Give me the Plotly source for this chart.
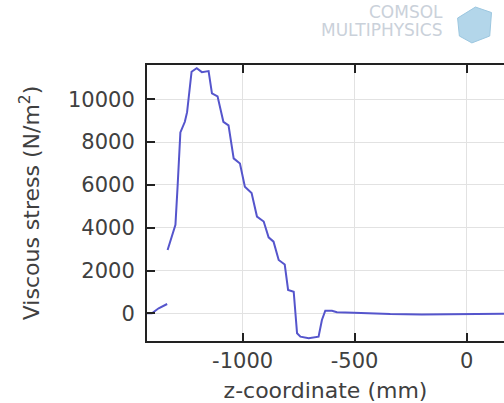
import plotly.graph_objects as go

# Segment 1 (before discontinuity) and segment 2, separated by None
z_mm = [-1427, -1405, -1375, -1337, None,
        -1335, -1300, -1290, -1278, -1258, -1248, -1228, -1205, -1182, -1152,
        -1137, -1112, -1086, -1063, -1040, -1012, -990, -960, -936, -906,
        -884, -862, -839, -812, -797, -772, -757, -742, -705, -661, -646,
        -631, -601, -579, -504, -341, -200, -50, 168]
stress = [0, 0, 234, 435, None,
          2960, 4130, 6000, 8450, 8950, 9400, 11290, 11450, 11270, 11320,
          10280, 10140, 8950, 8780, 7240, 7000, 5920, 5620, 4520, 4290,
          3550, 3350, 2490, 2280, 1090, 1010, -930, -1093, -1170, -1093, -310,
          121, 121, 47, 28, -33, -50, -30, -20]

x_ticks = [-1000, -500, 0]
x_tick_labels = ["-1000", "-500", "0"]
y_ticks = [0, 2000, 4000, 6000, 8000, 10000]
y_tick_labels = ["0", "2000", "4000", "6000", "8000", "10000"]

fig = go.Figure()
fig.add_trace(go.Scatter(x=z_mm, y=stress, mode="lines",
                         line=dict(color="#5555cc", width=2),
                         connectgaps=False, showlegend=False))

font = dict(family="DejaVu Sans", size=21, color="#404040")
title_font = dict(family="DejaVu Sans", size=22, color="#404040")
fig.update_layout(
    width=504, height=403,
    margin=dict(l=147, r=0, t=65, b=62),
    paper_bgcolor="white", plot_bgcolor="white",
    font=font,
    xaxis=dict(range=[-1427, 167], tickvals=x_ticks, ticktext=x_tick_labels,
               ticks="inside", ticklen=8, tickwidth=2, tickcolor="#222",
               showline=True, linecolor="#222", linewidth=2, mirror="ticks",
               showgrid=True, gridcolor="#e2e2e2", gridwidth=1, zeroline=False,
               tickfont=font,
               title=dict(text="z-coordinate (mm)", font=title_font, standoff=10)),
    yaxis=dict(range=[-1294, 11603], tickvals=y_ticks, ticktext=y_tick_labels,
               ticks="inside", ticklen=8, tickwidth=2, tickcolor="#222",
               showline=True, linecolor="#222", linewidth=2, mirror=False,
               showgrid=True, gridcolor="#e2e2e2", gridwidth=1, zeroline=False,
               tickfont=font, ticklabelstandoff=6,
               title=dict(text="Viscous stress (N/m<sup>2</sup>)", font=title_font, standoff=22)),
)

# faint COMSOL logo
logo_font = dict(family="DejaVu Sans", size=17, color="#cad1da")
fig.add_annotation(xref="paper", yref="paper", x=0.835, y=1.192, xanchor="right", yanchor="middle",
                   text="COMSOL", showarrow=False, font=logo_font)
fig.add_annotation(xref="paper", yref="paper", x=0.835, y=1.127, xanchor="right", yanchor="middle",
                   text="MULTIPHYSICS", showarrow=False, font=logo_font)
fig.add_shape(type="path", xref="paper", yref="paper",
              path="M 0.87 1.17 L 0.92 1.21 L 0.965 1.19 L 0.96 1.105 L 0.91 1.08 L 0.875 1.105 Z",
              fillcolor="#b3d6ea", line=dict(color="#9cc7e0", width=1), layer="above")

fig.write_html("out.html")
